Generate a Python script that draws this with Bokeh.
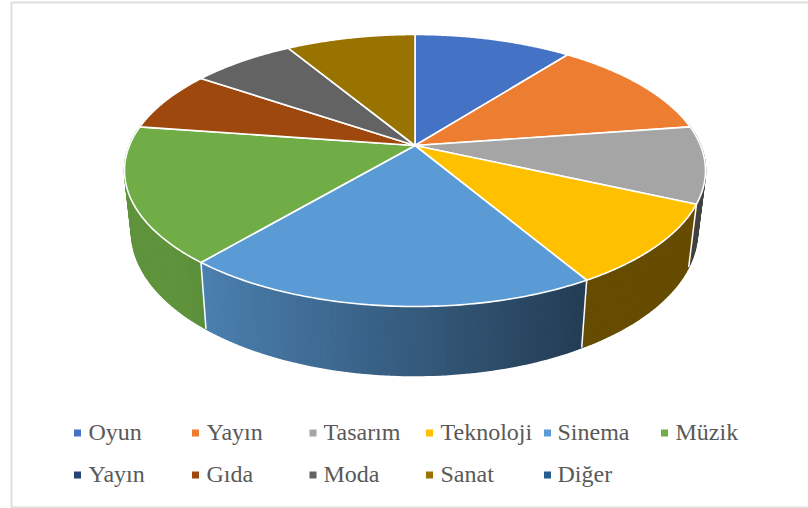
import numpy as np
from bokeh.plotting import figure
from bokeh.models import Range1d
from bokeh.core.properties import value
from bokeh.embed import file_html
from bokeh.resources import INLINE

# data
categories = ["Oyun", "Yayın", "Tasarım", "Teknoloji", "Sinema", "Müzik",
              "Yayın", "Gıda", "Moda", "Sanat", "Diğer"]
values = [10.5, 12.2, 9.1, 9.8, 19.6, 16.2, 0.0, 7.2, 6.9, 8.6, 0.0]
colors = ["#4472C4", "#ED7D31", "#A5A5A5", "#FFC000", "#5B9BD5", "#70AD47",
          "#264478", "#9E480E", "#636363", "#997300", "#255E91"]

# layout: projection of the pie disc to canvas pixels
CX, TIP_Y = 414.5, 145.0
RIM_CY, RIM_RX, RIM_RY = 170.0, 290.5, 136.0
BASE_CX, BASE_CY, BASE_RX, BASE_RY = 414.0, 231.0, 283.0, 144.0
K = (161 - 111) / (161 + 111)
A = 161 * (1 - K)
B = RIM_RX * np.sqrt(1 - K * K)

legend_col_x = [73.5, 191.5, 309, 425.5, 543.5, 660.5]
legend_text_x = [88, 206, 323, 440, 557, 675]
legend_row_y = [432.5, 474.5]
LEGEND_COLS = 6


def top_point(theta):
    X, Y = np.sin(theta), np.cos(theta)
    den = 1 + K * Y
    return CX + B * X / den, TIP_Y - A * Y / den


def base_point(x, y):
    ex = (x - CX) / RIM_RX
    ey = (y - RIM_CY) / RIM_RY
    return BASE_CX + BASE_RX * ex, BASE_CY + BASE_RY * ey


def shade(hex_color, x):
    f = float(np.clip(0.82 - (x - 206) * 0.42 / 376, 0.40, 0.85))
    r, g, b = (int(hex_color[i:i + 2], 16) for i in (1, 3, 5))
    return "#%02x%02x%02x" % (int(r * f), int(g * f), int(b * f))


p = figure(width=808, height=508, output_backend="svg", toolbar_location=None,
           x_range=Range1d(0, 808), y_range=Range1d(508, 0),
           x_axis_type=None, y_axis_type=None, min_border=0,
           outline_line_color=None, background_fill_color="white")
p.grid.visible = False

# chart frame (no right edge in the reference)
p.line([808, 11, 11, 808], [2, 2, 507, 507], line_color="#DEDEDE", line_width=2)

total = sum(values)
edges = np.radians(np.concatenate([[0], np.cumsum(values)]) / total * 360)

# side wall, built of thin shaded strips, painted back to front
strips = []
for i, col in enumerate(colors):
    if values[i] <= 0:
        continue
    n = max(2, int(np.degrees(edges[i + 1] - edges[i])))
    th = np.linspace(edges[i], edges[i + 1], n + 1)
    for a, b in zip(th[:-1], th[1:]):
        x1, y1 = top_point(a)
        x2, y2 = top_point(b)
        if max(y1, y2) < RIM_CY - 45:
            continue
        bx1, by1 = base_point(x1, y1)
        bx2, by2 = base_point(x2, y2)
        strips.append((max(by1, by2), [x1, x2, bx2, bx1], [y1, y2, by2, by1],
                       shade(col, (x1 + x2) / 2)))
strips.sort(key=lambda s: s[0])
p.patches([s[1] for s in strips], [s[2] for s in strips],
          fill_color=[s[3] for s in strips], line_color=[s[3] for s in strips],
          line_width=1.5)

# white seams between the side walls
for i in range(len(values)):
    x, y = top_point(edges[i])
    if y > RIM_CY:
        bx, by = base_point(x, y)
        p.line([x, bx], [y, by], line_color="white", line_width=1.5)

# top faces
for i, col in enumerate(colors):
    if values[i] <= 0:
        continue
    th = np.linspace(edges[i], edges[i + 1], 90)
    xs, ys = top_point(th)
    p.patch(np.r_[CX, xs], np.r_[TIP_Y, ys], fill_color=col,
            line_color="white", line_width=1.6, line_join="round")

# legend
for i, (name, col) in enumerate(zip(categories, colors)):
    c = i % LEGEND_COLS
    y = legend_row_y[i // LEGEND_COLS]
    p.scatter([legend_col_x[c] + 3.5], [y], marker="square", size=7,
              fill_color=col, line_color=None)
    p.text([legend_text_x[c]], [y - 1], text=[name], text_color="#595959",
           text_font=value("Liberation Serif"), text_font_size="24px",
           text_baseline="middle", text_align="left")

open("out.html", "w").write(file_html(p, INLINE))
